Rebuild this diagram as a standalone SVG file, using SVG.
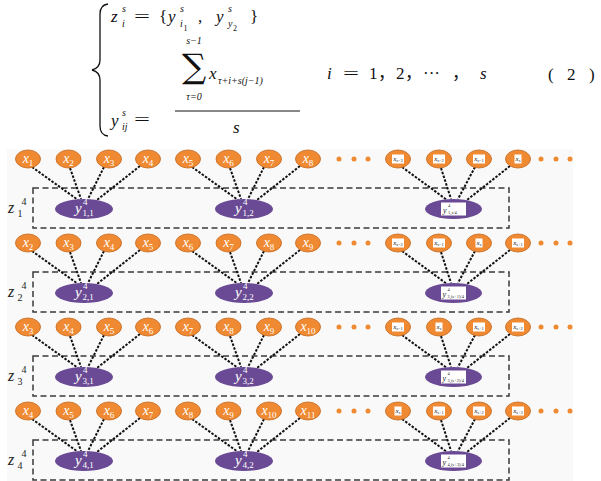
<svg xmlns="http://www.w3.org/2000/svg" width="601" height="481" viewBox="0 0 601 481">
<defs><style>
.m{font-family:"Liberation Serif","Times New Roman","DejaVu Serif",serif;fill:#111}
.it{font-style:italic}
.cj{font-family:"Liberation Serif","Noto Sans CJK SC",serif;fill:#111}
.xn{fill:#EF8A33;stroke:#C4661C;stroke-width:0.8}
.yn{fill:#6A4A95}
.xl{font-family:"Liberation Serif","Times New Roman",serif;font-style:italic;font-size:14px;fill:#fff;text-anchor:middle}
.sb{font-size:9px;font-style:normal}
.yl{font-family:"Liberation Serif","Times New Roman",serif;font-style:italic;font-size:15px;fill:#fff}
.ys{font-size:9px;font-style:normal}
.bx{fill:#fff}
.bt{font-family:"Liberation Serif","Times New Roman",serif;font-style:italic;font-size:7px;fill:#222;text-anchor:middle}
.bs{font-size:4.5px;font-style:normal}
.byt{font-family:"Liberation Serif","Times New Roman",serif;font-style:italic;font-size:8px;fill:#222}
.bys{font-size:4.5px;font-style:normal}
.box{fill:none;stroke:#3a3a3a;stroke-width:1.5;stroke-dasharray:6 3.5}
.ln{stroke:#111;stroke-width:2;stroke-dasharray:2.5 1.5;fill:none}
.dot{fill:#EF8A33}
.zl{font-family:"Liberation Serif","Times New Roman",serif;font-style:italic;font-size:16px;fill:#222}
.zs{font-size:10px;font-style:normal}
</style></defs>
<rect width="601" height="481" fill="#fff"/>
<g id="formula">
<path d="M108 4 Q100 5 100 14 L100 60 Q100 68 92 70 Q100 72 100 80 L100 126 Q100 135 108 136" fill="none" stroke="#111" stroke-width="1.3"/>
<text class="m it" x="111" y="22" font-size="17">z</text>
<text class="m it" x="122" y="12" font-size="10">s</text>
<text class="m it" x="122" y="27" font-size="10">i</text>
<text class="m" x="134" y="22" font-size="17" textLength="16" lengthAdjust="spacingAndGlyphs">=</text>
<text class="m" x="159" y="22" font-size="17">{</text>
<text class="m it" x="168" y="22" font-size="17">y</text>
<text class="m it" x="180" y="12" font-size="10">s</text>
<text class="m it" x="180" y="27" font-size="10">i</text>
<text class="m" x="183.5" y="31" font-size="8">1</text>
<text class="m" x="198" y="22" font-size="17">,</text>
<text class="m it" x="216" y="22" font-size="17">y</text>
<text class="m it" x="228" y="12" font-size="10">s</text>
<text class="m it" x="228" y="27" font-size="10">y</text>
<text class="m" x="233" y="31" font-size="8">2</text>
<text class="m" x="250" y="22" font-size="17">}</text>
<text class="m it" x="194" y="44" font-size="10" text-anchor="middle">s−1</text>
<text x="182" y="78" font-size="34" style="font-family:'DejaVu Serif',serif;fill:#111">∑</text>
<text class="m it" x="209" y="79" font-size="17">x</text>
<text class="m it" x="218" y="84" font-size="10">τ+i+s(j−1)</text>
<text class="m it" x="194" y="100" font-size="10" text-anchor="middle">τ=0</text>
<line x1="175" y1="111" x2="300" y2="111" stroke="#111" stroke-width="1"/>
<text class="m it" x="111" y="126" font-size="17">y</text>
<text class="m it" x="122" y="116" font-size="10">s</text>
<text class="m it" x="122" y="130" font-size="10">ij</text>
<text class="m" x="134" y="125" font-size="17" textLength="16" lengthAdjust="spacingAndGlyphs">=</text>
<text class="m it" x="233" y="133" font-size="17">s</text>
<text class="m it" x="327" y="79" font-size="17">i</text>
<text class="m" x="343" y="79" font-size="17" textLength="16" lengthAdjust="spacingAndGlyphs">=</text>
<text class="m" x="369" y="79" font-size="17">1</text>
<text class="cj" x="378" y="79" font-size="17">，</text>
<text class="m" x="396" y="79" font-size="17">2</text>
<text class="cj" x="405" y="79" font-size="17">，</text>
<text class="m" x="423" y="79" font-size="17">···</text>
<text class="cj" x="452" y="79" font-size="17">，</text>
<text class="m it" x="480" y="79" font-size="17">s</text>
<text class="m" x="548" y="80" font-size="17">(</text>
<text class="m" x="567" y="80" font-size="17">2</text>
<text class="m" x="589" y="80" font-size="17">)</text>
</g>
<rect x="7" y="149" width="566" height="332" fill="#f9f9f9"/>
<g id="frames">
<rect class="box" x="33" y="188" width="476" height="40"/>
<rect class="box" x="33" y="272" width="476" height="40"/>
<rect class="box" x="33" y="356" width="476" height="40"/>
<rect class="box" x="33" y="440" width="476" height="40"/>
</g>
<g id="z-labels">
<text class="zl" x="8" y="213">z<tspan class="zs" x="17.5" y="217">1</tspan><tspan class="zs" x="21.5" y="205">4</tspan></text>
<text class="zl" x="8" y="297">z<tspan class="zs" x="17.5" y="301">2</tspan><tspan class="zs" x="21.5" y="289">4</tspan></text>
<text class="zl" x="8" y="381">z<tspan class="zs" x="17.5" y="385">3</tspan><tspan class="zs" x="21.5" y="373">4</tspan></text>
<text class="zl" x="8" y="465">z<tspan class="zs" x="17.5" y="469">4</tspan><tspan class="zs" x="21.5" y="457">4</tspan></text>
</g>
<g id="connectors">
<path class="ln" d="M32 167L78 200M70 168L81 199M104 167L88 199M140 166L97 200M192 167L238 200M230 168L241 199M264 167L248 199M300 166L257 200M402 167L447 200M441 168L451 199M475 167L458 199M510 166L467 200"/>
<path class="ln" d="M32 251L78 284M70 252L81 283M104 251L88 283M140 250L97 284M192 251L238 284M230 252L241 283M264 251L248 283M300 250L257 284M402 251L447 284M441 252L451 283M475 251L458 283M510 250L467 284"/>
<path class="ln" d="M32 335L78 368M70 336L81 367M104 335L88 367M140 334L97 368M192 335L238 368M230 336L241 367M264 335L248 367M300 334L257 368M402 335L447 368M441 336L451 367M475 335L458 367M510 334L467 368"/>
<path class="ln" d="M32 419L78 452M70 420L81 451M104 419L88 451M140 418L97 452M192 419L238 452M230 420L241 451M264 419L248 451M300 418L257 452M402 419L447 452M441 420L451 451M475 419L458 451M510 418L467 452"/>
</g>
<g id="ellipses-dots">
<circle class="dot" cx="339" cy="159" r="2.5"/><circle class="dot" cx="354" cy="159" r="2.5"/><circle class="dot" cx="368" cy="159" r="2.5"/><circle class="dot" cx="541" cy="159" r="2.5"/><circle class="dot" cx="556" cy="159" r="2.5"/><circle class="dot" cx="570" cy="159" r="2.5"/>
<circle class="dot" cx="339" cy="243" r="2.5"/><circle class="dot" cx="354" cy="243" r="2.5"/><circle class="dot" cx="368" cy="243" r="2.5"/><circle class="dot" cx="541" cy="243" r="2.5"/><circle class="dot" cx="556" cy="243" r="2.5"/><circle class="dot" cx="570" cy="243" r="2.5"/>
<circle class="dot" cx="339" cy="327" r="2.5"/><circle class="dot" cx="354" cy="327" r="2.5"/><circle class="dot" cx="368" cy="327" r="2.5"/><circle class="dot" cx="541" cy="327" r="2.5"/><circle class="dot" cx="556" cy="327" r="2.5"/><circle class="dot" cx="570" cy="327" r="2.5"/>
<circle class="dot" cx="339" cy="411" r="2.5"/><circle class="dot" cx="354" cy="411" r="2.5"/><circle class="dot" cx="368" cy="411" r="2.5"/><circle class="dot" cx="541" cy="411" r="2.5"/><circle class="dot" cx="556" cy="411" r="2.5"/><circle class="dot" cx="570" cy="411" r="2.5"/>
</g>
<!-- row 1 -->
<g id="r1x1"><ellipse class="xn" cx="28" cy="159" rx="12.5" ry="9"/><text class="xl" x="28" y="162.5">x<tspan class="sb" dy="3">1</tspan></text></g>
<g id="r1x2"><ellipse class="xn" cx="68.5" cy="159" rx="12.5" ry="9"/><text class="xl" x="68.5" y="162.5">x<tspan class="sb" dy="3">2</tspan></text></g>
<g id="r1x3"><ellipse class="xn" cx="109" cy="159" rx="12.5" ry="9"/><text class="xl" x="109" y="162.5">x<tspan class="sb" dy="3">3</tspan></text></g>
<g id="r1x4"><ellipse class="xn" cx="148" cy="159" rx="12.5" ry="9"/><text class="xl" x="148" y="162.5">x<tspan class="sb" dy="3">4</tspan></text></g>
<g id="r1x5"><ellipse class="xn" cx="188" cy="159" rx="12.5" ry="9"/><text class="xl" x="188" y="162.5">x<tspan class="sb" dy="3">5</tspan></text></g>
<g id="r1x6"><ellipse class="xn" cx="228.5" cy="159" rx="12.5" ry="9"/><text class="xl" x="228.5" y="162.5">x<tspan class="sb" dy="3">6</tspan></text></g>
<g id="r1x7"><ellipse class="xn" cx="269" cy="159" rx="12.5" ry="9"/><text class="xl" x="269" y="162.5">x<tspan class="sb" dy="3">7</tspan></text></g>
<g id="r1x8"><ellipse class="xn" cx="308" cy="159" rx="12.5" ry="9"/><text class="xl" x="308" y="162.5">x<tspan class="sb" dy="3">8</tspan></text></g>
<g id="r1xa"><ellipse class="xn" cx="398" cy="159" rx="12.5" ry="9"/><rect class="bx" x="392" y="154.5" width="12" height="9"/><text class="bt" x="398" y="160.5">x<tspan class="bs" dy="1.5">s−3</tspan></text></g>
<g id="r1xb"><ellipse class="xn" cx="439" cy="159" rx="12.5" ry="9"/><rect class="bx" x="433" y="154.5" width="12" height="9"/><text class="bt" x="439" y="160.5">x<tspan class="bs" dy="1.5">s−2</tspan></text></g>
<g id="r1xc"><ellipse class="xn" cx="479" cy="159" rx="12.5" ry="9"/><rect class="bx" x="473" y="154.5" width="12" height="9"/><text class="bt" x="479" y="160.5">x<tspan class="bs" dy="1.5">s−1</tspan></text></g>
<g id="r1xd"><ellipse class="xn" cx="518" cy="159" rx="12.5" ry="9"/><rect class="bx" x="514.5" y="154.5" width="7" height="9"/><text class="bt" x="518" y="160.5">x<tspan class="bs" dy="1.5">s</tspan></text></g>
<g id="r1y1"><ellipse class="yn" cx="84" cy="209" rx="29" ry="10"/><text class="yl" x="75" y="213">y<tspan class="ys" x="83" y="205">4</tspan><tspan class="ys" x="82.5" y="216">1,1</tspan></text></g>
<g id="r1y2"><ellipse class="yn" cx="244" cy="209" rx="29" ry="10"/><text class="yl" x="235" y="213">y<tspan class="ys" x="243" y="205">4</tspan><tspan class="ys" x="242.5" y="216">1,2</tspan></text></g>
<g id="r1y3"><ellipse class="yn" cx="453.5" cy="209" rx="28.5" ry="10"/><rect class="bx" x="441" y="202.5" width="25" height="13"/><text class="byt" x="443" y="212.5">y<tspan class="bys" x="448" y="206.5">4</tspan><tspan class="bys" x="448" y="213.5">1,s/4</tspan></text></g>
<!-- row 2 -->
<g id="r2x2"><ellipse class="xn" cx="28" cy="243" rx="12.5" ry="9"/><text class="xl" x="28" y="246.5">x<tspan class="sb" dy="3">2</tspan></text></g>
<g id="r2x3"><ellipse class="xn" cx="68.5" cy="243" rx="12.5" ry="9"/><text class="xl" x="68.5" y="246.5">x<tspan class="sb" dy="3">3</tspan></text></g>
<g id="r2x4"><ellipse class="xn" cx="109" cy="243" rx="12.5" ry="9"/><text class="xl" x="109" y="246.5">x<tspan class="sb" dy="3">4</tspan></text></g>
<g id="r2x5"><ellipse class="xn" cx="148" cy="243" rx="12.5" ry="9"/><text class="xl" x="148" y="246.5">x<tspan class="sb" dy="3">5</tspan></text></g>
<g id="r2x6"><ellipse class="xn" cx="188" cy="243" rx="12.5" ry="9"/><text class="xl" x="188" y="246.5">x<tspan class="sb" dy="3">6</tspan></text></g>
<g id="r2x7"><ellipse class="xn" cx="228.5" cy="243" rx="12.5" ry="9"/><text class="xl" x="228.5" y="246.5">x<tspan class="sb" dy="3">7</tspan></text></g>
<g id="r2x8"><ellipse class="xn" cx="269" cy="243" rx="12.5" ry="9"/><text class="xl" x="269" y="246.5">x<tspan class="sb" dy="3">8</tspan></text></g>
<g id="r2x9"><ellipse class="xn" cx="308" cy="243" rx="12.5" ry="9"/><text class="xl" x="308" y="246.5">x<tspan class="sb" dy="3">9</tspan></text></g>
<g id="r2xa"><ellipse class="xn" cx="398" cy="243" rx="12.5" ry="9"/><rect class="bx" x="392" y="238.5" width="12" height="9"/><text class="bt" x="398" y="244.5">x<tspan class="bs" dy="1.5">s−2</tspan></text></g>
<g id="r2xb"><ellipse class="xn" cx="439" cy="243" rx="12.5" ry="9"/><rect class="bx" x="433" y="238.5" width="12" height="9"/><text class="bt" x="439" y="244.5">x<tspan class="bs" dy="1.5">s−1</tspan></text></g>
<g id="r2xc"><ellipse class="xn" cx="479" cy="243" rx="12.5" ry="9"/><rect class="bx" x="475.5" y="238.5" width="7" height="9"/><text class="bt" x="479" y="244.5">x<tspan class="bs" dy="1.5">s</tspan></text></g>
<g id="r2xd"><ellipse class="xn" cx="518" cy="243" rx="12.5" ry="9"/><rect class="bx" x="512" y="238.5" width="12" height="9"/><text class="bt" x="518" y="244.5">x<tspan class="bs" dy="1.5">s+1</tspan></text></g>
<g id="r2y1"><ellipse class="yn" cx="84" cy="293" rx="29" ry="10"/><text class="yl" x="75" y="297">y<tspan class="ys" x="83" y="289">4</tspan><tspan class="ys" x="82.5" y="300">2,1</tspan></text></g>
<g id="r2y2"><ellipse class="yn" cx="244" cy="293" rx="29" ry="10"/><text class="yl" x="235" y="297">y<tspan class="ys" x="243" y="289">4</tspan><tspan class="ys" x="242.5" y="300">2,2</tspan></text></g>
<g id="r2y3"><ellipse class="yn" cx="453.5" cy="293" rx="28.5" ry="10"/><rect class="bx" x="441" y="286.5" width="25" height="13"/><text class="byt" x="442.5" y="296.5">y<tspan class="bys" x="447.5" y="290.5">4</tspan><tspan class="bys" x="447.5" y="297.5">2,(s+1)/4</tspan></text></g>
<!-- row 3 -->
<g id="r3x3"><ellipse class="xn" cx="28" cy="327" rx="12.5" ry="9"/><text class="xl" x="28" y="330.5">x<tspan class="sb" dy="3">3</tspan></text></g>
<g id="r3x4"><ellipse class="xn" cx="68.5" cy="327" rx="12.5" ry="9"/><text class="xl" x="68.5" y="330.5">x<tspan class="sb" dy="3">4</tspan></text></g>
<g id="r3x5"><ellipse class="xn" cx="109" cy="327" rx="12.5" ry="9"/><text class="xl" x="109" y="330.5">x<tspan class="sb" dy="3">5</tspan></text></g>
<g id="r3x6"><ellipse class="xn" cx="148" cy="327" rx="12.5" ry="9"/><text class="xl" x="148" y="330.5">x<tspan class="sb" dy="3">6</tspan></text></g>
<g id="r3x7"><ellipse class="xn" cx="188" cy="327" rx="12.5" ry="9"/><text class="xl" x="188" y="330.5">x<tspan class="sb" dy="3">7</tspan></text></g>
<g id="r3x8"><ellipse class="xn" cx="228.5" cy="327" rx="12.5" ry="9"/><text class="xl" x="228.5" y="330.5">x<tspan class="sb" dy="3">8</tspan></text></g>
<g id="r3x9"><ellipse class="xn" cx="269" cy="327" rx="12.5" ry="9"/><text class="xl" x="269" y="330.5">x<tspan class="sb" dy="3">9</tspan></text></g>
<g id="r3x10"><ellipse class="xn" cx="308" cy="327" rx="12.5" ry="9"/><text class="xl" x="308" y="330.5">x<tspan class="sb" dy="3">10</tspan></text></g>
<g id="r3xa"><ellipse class="xn" cx="398" cy="327" rx="12.5" ry="9"/><rect class="bx" x="392" y="322.5" width="12" height="9"/><text class="bt" x="398" y="328.5">x<tspan class="bs" dy="1.5">s−1</tspan></text></g>
<g id="r3xb"><ellipse class="xn" cx="439" cy="327" rx="12.5" ry="9"/><rect class="bx" x="435.5" y="322.5" width="7" height="9"/><text class="bt" x="439" y="328.5">x<tspan class="bs" dy="1.5">s</tspan></text></g>
<g id="r3xc"><ellipse class="xn" cx="479" cy="327" rx="12.5" ry="9"/><rect class="bx" x="473" y="322.5" width="12" height="9"/><text class="bt" x="479" y="328.5">x<tspan class="bs" dy="1.5">s+1</tspan></text></g>
<g id="r3xd"><ellipse class="xn" cx="518" cy="327" rx="12.5" ry="9"/><rect class="bx" x="512" y="322.5" width="12" height="9"/><text class="bt" x="518" y="328.5">x<tspan class="bs" dy="1.5">s+2</tspan></text></g>
<g id="r3y1"><ellipse class="yn" cx="84" cy="377" rx="29" ry="10"/><text class="yl" x="75" y="381">y<tspan class="ys" x="83" y="373">4</tspan><tspan class="ys" x="82.5" y="384">3,1</tspan></text></g>
<g id="r3y2"><ellipse class="yn" cx="244" cy="377" rx="29" ry="10"/><text class="yl" x="235" y="381">y<tspan class="ys" x="243" y="373">4</tspan><tspan class="ys" x="242.5" y="384">3,2</tspan></text></g>
<g id="r3y3"><ellipse class="yn" cx="453.5" cy="377" rx="28.5" ry="10"/><rect class="bx" x="441" y="370.5" width="25" height="13"/><text class="byt" x="442.5" y="380.5">y<tspan class="bys" x="447.5" y="374.5">4</tspan><tspan class="bys" x="447.5" y="381.5">3,(s+2)/4</tspan></text></g>
<!-- row 4 -->
<g id="r4x4"><ellipse class="xn" cx="28" cy="411" rx="12.5" ry="9"/><text class="xl" x="28" y="414.5">x<tspan class="sb" dy="3">4</tspan></text></g>
<g id="r4x5"><ellipse class="xn" cx="68.5" cy="411" rx="12.5" ry="9"/><text class="xl" x="68.5" y="414.5">x<tspan class="sb" dy="3">5</tspan></text></g>
<g id="r4x6"><ellipse class="xn" cx="109" cy="411" rx="12.5" ry="9"/><text class="xl" x="109" y="414.5">x<tspan class="sb" dy="3">6</tspan></text></g>
<g id="r4x7"><ellipse class="xn" cx="148" cy="411" rx="12.5" ry="9"/><text class="xl" x="148" y="414.5">x<tspan class="sb" dy="3">7</tspan></text></g>
<g id="r4x8"><ellipse class="xn" cx="188" cy="411" rx="12.5" ry="9"/><text class="xl" x="188" y="414.5">x<tspan class="sb" dy="3">8</tspan></text></g>
<g id="r4x9"><ellipse class="xn" cx="228.5" cy="411" rx="12.5" ry="9"/><text class="xl" x="228.5" y="414.5">x<tspan class="sb" dy="3">9</tspan></text></g>
<g id="r4x10"><ellipse class="xn" cx="269" cy="411" rx="12.5" ry="9"/><text class="xl" x="269" y="414.5">x<tspan class="sb" dy="3">10</tspan></text></g>
<g id="r4x11"><ellipse class="xn" cx="308" cy="411" rx="12.5" ry="9"/><text class="xl" x="308" y="414.5">x<tspan class="sb" dy="3">11</tspan></text></g>
<g id="r4xa"><ellipse class="xn" cx="398" cy="411" rx="12.5" ry="9"/><rect class="bx" x="394.5" y="406.5" width="7" height="9"/><text class="bt" x="398" y="412.5">x<tspan class="bs" dy="1.5">s</tspan></text></g>
<g id="r4xb"><ellipse class="xn" cx="439" cy="411" rx="12.5" ry="9"/><rect class="bx" x="433" y="406.5" width="12" height="9"/><text class="bt" x="439" y="412.5">x<tspan class="bs" dy="1.5">s+1</tspan></text></g>
<g id="r4xc"><ellipse class="xn" cx="479" cy="411" rx="12.5" ry="9"/><rect class="bx" x="473" y="406.5" width="12" height="9"/><text class="bt" x="479" y="412.5">x<tspan class="bs" dy="1.5">s+2</tspan></text></g>
<g id="r4xd"><ellipse class="xn" cx="518" cy="411" rx="12.5" ry="9"/><rect class="bx" x="512" y="406.5" width="12" height="9"/><text class="bt" x="518" y="412.5">x<tspan class="bs" dy="1.5">s+3</tspan></text></g>
<g id="r4y1"><ellipse class="yn" cx="84" cy="461" rx="29" ry="10"/><text class="yl" x="75" y="465">y<tspan class="ys" x="83" y="457">4</tspan><tspan class="ys" x="82.5" y="468">4,1</tspan></text></g>
<g id="r4y2"><ellipse class="yn" cx="244" cy="461" rx="29" ry="10"/><text class="yl" x="235" y="465">y<tspan class="ys" x="243" y="457">4</tspan><tspan class="ys" x="242.5" y="468">4,2</tspan></text></g>
<g id="r4y3"><ellipse class="yn" cx="453.5" cy="461" rx="28.5" ry="10"/><rect class="bx" x="441" y="454.5" width="25" height="13"/><text class="byt" x="442.5" y="464.5">y<tspan class="bys" x="447.5" y="458.5">4</tspan><tspan class="bys" x="447.5" y="465.5">4,(s+3)/4</tspan></text></g>
</svg>
